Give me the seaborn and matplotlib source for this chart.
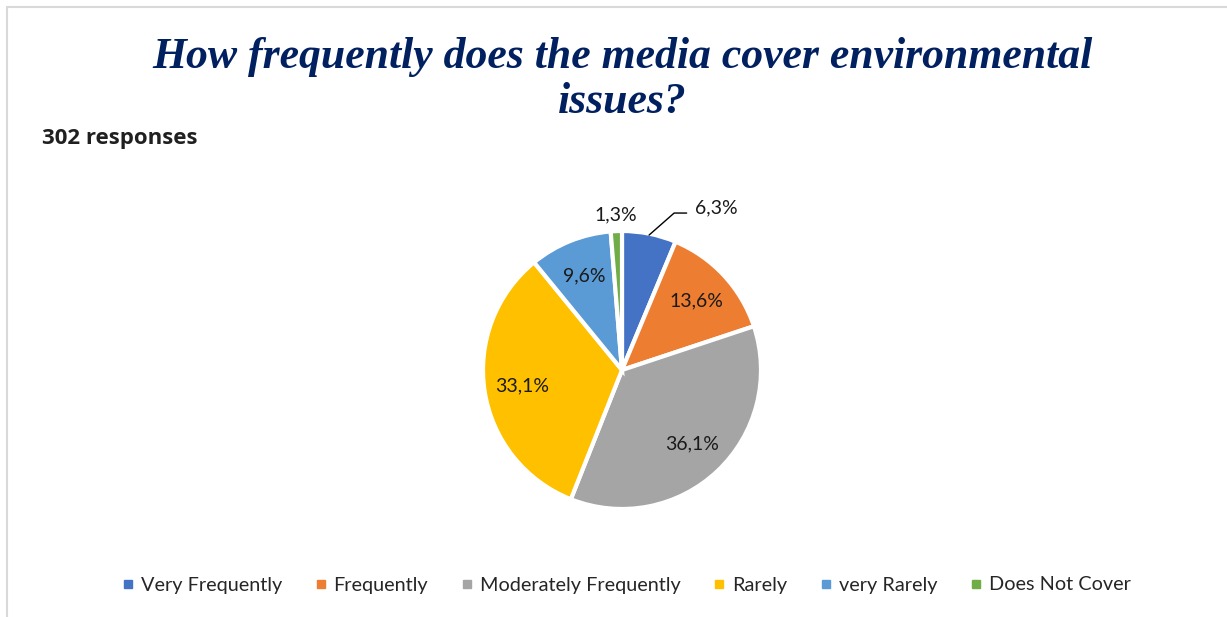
import numpy as np
import matplotlib.pyplot as plt
import seaborn as sns
from matplotlib.patches import Rectangle
from matplotlib.lines import Line2D

# survey answers, share of 302 responses (%)
categories = ["Very Frequently", "Frequently", "Moderately Frequently", "Rarely", "very Rarely", "Does Not Cover"]
shares = [6.3, 13.6, 36.1, 33.1, 9.6, 1.3]
colors = ["#4472C4", "#ED7D31", "#A5A5A5", "#FFC000", "#5B9BD5", "#70AD47"]

sns.set_theme(style="white")
plt.rcParams['font.family'] = ['Lato', 'DejaVu Sans']

W, H = 1227, 617
fig = plt.figure(figsize=(W / 100, H / 100), dpi=100)

# pie axes: centre (622, 370) px, radius 139 px
cx, cy, r_px, half = 622, 370, 139, 200
ax = fig.add_axes([(cx - half) / W, (H - cy - half) / H, 2 * half / W, 2 * half / H])
lim = half / r_px

wedges, _ = ax.pie(shares, colors=colors, startangle=90, counterclock=False,
                   wedgeprops=dict(edgecolor="white", linewidth=3))
ax.set_xlim(-lim, lim)
ax.set_ylim(-lim, lim)
ax.set_aspect("equal")
ax.axis("off")

# data labels
lab_kw = dict(ha="center", va="center", fontsize=14, color="#1a1a1a")
for i, (w, v) in enumerate(zip(wedges, shares)):
    mid = np.deg2rad((w.theta1 + w.theta2) / 2)
    txt = f"{v:.1f}".replace(".", ",") + "%"
    if i == 0:
        # first slice: label outside with leader line
        lx, ly = 1.35 * np.cos(np.deg2rad(60)), 1.35 * np.sin(np.deg2rad(60))
        sx, sy = 0.99 * np.cos(mid), 0.99 * np.sin(mid)
        ax.plot([sx, lx - 0.3, lx - 0.21], [sy, ly - 0.04, ly - 0.04], color="black", lw=1)
        ax.text(lx, ly, txt, **lab_kw)
    elif v < 5:
        ax.text(1.12 * np.cos(mid), 1.12 * np.sin(mid), txt, **lab_kw)
    else:
        ax.text(0.73 * np.cos(mid), 0.73 * np.sin(mid), txt, **lab_kw)

# title and subtitle
title_kw = dict(ha="center", va="baseline", fontsize=31.5, fontweight="bold", style="italic",
                color="#002060", family="Liberation Serif")
fig.text(622 / W, 1 - 68 / H, "How frequently does the media cover environmental", **title_kw)
fig.text(622 / W, 1 - 113 / H, "issues?", **title_kw)
fig.text(42 / W, 1 - 144 / H, "302 responses", ha="left", va="baseline", fontsize=16,
         fontweight="bold", color="#202020", family="Open Sans")

# legend
handles = [Line2D([], [], marker="s", linestyle="", markersize=6, color=c) for c in colors]
fig.legend(handles, categories, loc="center", bbox_to_anchor=(0.510, 1 - 585 / H), ncol=6,
           frameon=False, fontsize=14.3, handletextpad=0.3, columnspacing=1.6, handlelength=0.7)

# chart border (top and left visible)
fig.add_artist(Rectangle((7 / W, -0.1), 1.2, 1.1 - 7 / H, transform=fig.transFigure,
                         fill=False, edgecolor="#D9D9D9", linewidth=1.5))

fig.savefig("out.png", dpi=100)
